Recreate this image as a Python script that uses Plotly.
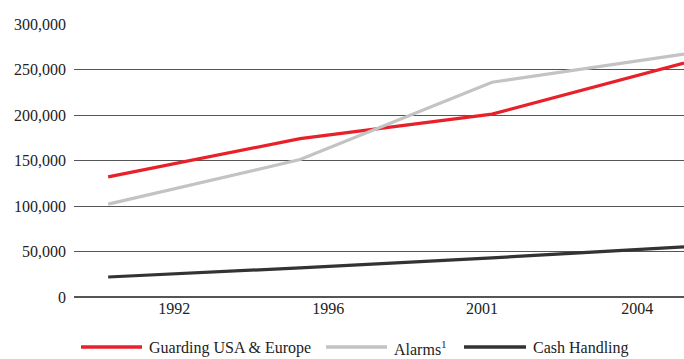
import plotly.graph_objects as go

# Revenue by business line (data points per period)
years = [1990, 1995, 2000, 2005]
guarding = [132000, 174000, 201000, 257000]
alarms = [102000, 151000, 236000, 267000]
cash_handling = [22000, 32000, 43000, 55000]

# Axis labelling
tick_positions = [1991.72, 1995.73, 1999.74, 2003.78]
tick_labels = ["1992", "1996", "2001", "2004"]
y_ticks = [0, 50000, 100000, 150000, 200000, 250000, 300000]

FONT = "Liberation Serif"
TEXT = "#222222"

series = [
    ("Guarding USA &amp; Europe", guarding, "#e8202a"),
    ("Alarms<sup>1</sup>", alarms, "#c3c3c6"),
    ("Cash Handling", cash_handling, "#333333"),
]

fig = go.Figure()
for name, vals, color in series:
    fig.add_trace(go.Scatter(
        x=years, y=vals, name=name, mode="lines",
        line=dict(color=color, width=3.2),
        showlegend=False,
    ))

# Legend row below the axis: a line sample followed by its label (pixel layout)
PLOT_L, PLOT_W, PLOT_B, PLOT_H = 74, 610, 297, 273
legend_x = [(81, 142), (326, 387), (464, 526)]
legend_y = 347


def px_x(v):
    return (v - PLOT_L) / PLOT_W


def px_y(v):
    return (PLOT_B - v) / PLOT_H


for (x0, x1), (name, _, color) in zip(legend_x, series):
    fig.add_shape(type="line", xref="paper", yref="paper",
                  x0=px_x(x0), x1=px_x(x1), y0=px_y(legend_y), y1=px_y(legend_y),
                  line=dict(color=color, width=3.5))
    fig.add_annotation(text=name, xref="paper", yref="paper",
                       x=px_x(x1 + 5), y=px_y(legend_y + 1),
                       xanchor="left", yanchor="middle", showarrow=False,
                       font=dict(family=FONT, size=16, color=TEXT))

fig.update_layout(
    width=684, height=359,
    margin=dict(l=74, r=0, t=24, b=62),
    paper_bgcolor="white", plot_bgcolor="white",
    font=dict(family=FONT, size=16, color=TEXT),
    showlegend=False,
    xaxis=dict(
        range=[1989.11, 2005], tickmode="array",
        tickvals=tick_positions, ticktext=tick_labels,
        showgrid=False, zeroline=False, showline=False, ticks="",
        tickfont=dict(family=FONT, size=16, color=TEXT),
    ),
    yaxis=dict(
        range=[0, 300000], tickmode="array", tickvals=y_ticks,
        tickformat=",d", showgrid=True, gridcolor="#555555", gridwidth=1.3,
        zeroline=True, zerolinecolor="#555555", zerolinewidth=2,
        showline=False, ticks="", ticklabelstandoff=7,
        tickfont=dict(family=FONT, size=16, color=TEXT),
    ),
)

fig.write_html("out.html")
